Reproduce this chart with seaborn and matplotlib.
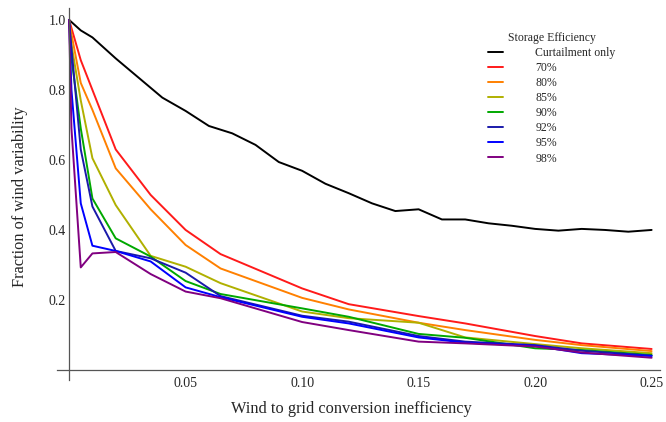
import seaborn as sns
import matplotlib.pyplot as plt
import matplotlib.ticker as mticker
import pandas as pd

# ----------------------------
# Data
# ----------------------------
x_curtail = [0, 0.005, 0.01, 0.02, 0.03, 0.04, 0.05, 0.06, 0.07, 0.08, 0.09,
             0.10, 0.11, 0.12, 0.13, 0.14, 0.15, 0.16, 0.17, 0.18, 0.19,
             0.20, 0.21, 0.22, 0.23, 0.24, 0.25]
curtailment_only = [1.0, 0.97, 0.95, 0.89, 0.834, 0.778, 0.74, 0.697, 0.676, 0.643, 0.594,
                    0.569, 0.532, 0.505, 0.476, 0.454, 0.459, 0.43, 0.43, 0.419, 0.412,
                    0.403, 0.398, 0.403, 0.40, 0.395, 0.40]

x_storage = [0, 0.001, 0.005, 0.01, 0.02, 0.035, 0.05, 0.065, 0.10, 0.12, 0.15, 0.17, 0.20, 0.22, 0.25]
eff_70 = [1.0, 0.977, 0.885, 0.80, 0.63, 0.50, 0.40, 0.331, 0.233, 0.188, 0.154, 0.133, 0.097, 0.076, 0.06]
eff_80 = [1.0, 0.96, 0.82, 0.743, 0.576, 0.459, 0.357, 0.29, 0.206, 0.173, 0.135, 0.114, 0.086, 0.071, 0.054]
eff_85 = [1.0, 0.93, 0.77, 0.605, 0.471, 0.326, 0.295, 0.248, 0.167, 0.148, 0.135, 0.093, 0.074, 0.062, 0.048]
eff_90 = [1.0, 0.89, 0.69, 0.49, 0.376, 0.324, 0.254, 0.217, 0.176, 0.152, 0.103, 0.092, 0.062, 0.057, 0.043]
eff_92 = [1.0, 0.92, 0.63, 0.467, 0.34, 0.319, 0.278, 0.211, 0.155, 0.138, 0.097, 0.081, 0.071, 0.055, 0.041]
eff_95 = [1.0, 0.80, 0.476, 0.355, 0.34, 0.31, 0.236, 0.208, 0.152, 0.133, 0.093, 0.078, 0.069, 0.048, 0.04]
eff_98 = [1.0, 0.69, 0.293, 0.333, 0.337, 0.274, 0.224, 0.205, 0.137, 0.114, 0.081, 0.076, 0.067, 0.05, 0.035]

labels = ['Curtailment only', '70%', '80%', '85%', '90%', '92%', '95%', '98%']
colors = ['#000000', '#ff1a1a', '#ff8000', '#b0b000', '#00a800', '#1a1aaa', '#0000ff', '#800080']

x_ticks = [0.05, 0.10, 0.15, 0.20, 0.25]
y_ticks = [0.2, 0.4, 0.6, 0.8, 1.0]

# long-form table for seaborn
rows = [(x, y, labels[0]) for x, y in zip(x_curtail, curtailment_only)]
for lab, ys in zip(labels[1:], [eff_70, eff_80, eff_85, eff_90, eff_92, eff_95, eff_98]):
    rows.extend((x, y, lab) for x, y in zip(x_storage, ys))
df = pd.DataFrame(rows, columns=['inefficiency', 'fraction', 'Storage Efficiency'])

# ----------------------------
# Plot
# ----------------------------
sns.set_style("white")
plt.rcParams['font.family'] = ['Liberation Serif', 'DejaVu Serif']

fig = plt.figure(figsize=(6.66, 4.22), dpi=100)
ax = fig.add_axes([57 / 666, 1 - 380 / 422, 603 / 666, 372 / 422])

sns.lineplot(data=df, x='inefficiency', y='fraction', hue='Storage Efficiency',
             hue_order=labels, palette=dict(zip(labels, colors)),
             estimator=None, sort=False, linewidth=1.4, ax=ax)

ax.set_xlim(-0.0052, 0.2536)
ax.set_ylim(-0.0286, 1.034)

# Mathematica-like axes through the origin
for side in ['top', 'right']:
    ax.spines[side].set_visible(False)
ax.spines['left'].set_position(('data', 0))
ax.spines['bottom'].set_position(('data', 0))
for side in ['left', 'bottom']:
    ax.spines[side].set_color('#555555')
    ax.spines[side].set_linewidth(0.9)

ax.xaxis.set_major_locator(mticker.FixedLocator(x_ticks))
ax.xaxis.set_minor_locator(mticker.MultipleLocator(0.01))
ax.yaxis.set_major_locator(mticker.FixedLocator(y_ticks))
ax.yaxis.set_minor_locator(mticker.MultipleLocator(0.05))
ax.xaxis.set_major_formatter(mticker.FormatStrFormatter('%.2f'))
ax.yaxis.set_major_formatter(mticker.FormatStrFormatter('%.1f'))
ax.tick_params(which='both', direction='in', color='#555555', width=0.8, labelsize=10)
ax.tick_params(which='major', length=4.5)
ax.tick_params(which='minor', length=2.5)
ax.tick_params(axis='x', pad=5)
ax.tick_params(axis='y', pad=2.5)

ax.set_xlabel("Wind to grid conversion inefficiency", fontsize=11.8)
ax.set_ylabel("Fraction of wind variability", fontsize=11.8)
ax.xaxis.set_label_coords((351 - 57) / 603, (380 - 401) / 372)
ax.yaxis.set_label_coords((28 - 57) / 603, (380 - 197) / 372)

ax.legend(title='Storage Efficiency', loc='upper left',
          bbox_to_anchor=(488 / 666, 1 - 32 / 422), bbox_transform=fig.transFigure,
          frameon=False, fontsize=8.5, title_fontsize=8.5,
          handlelength=1.3, handletextpad=2.7, labelspacing=0.26,
          borderpad=0, borderaxespad=0)

plt.savefig('out.png', dpi=100)
plt.close()
